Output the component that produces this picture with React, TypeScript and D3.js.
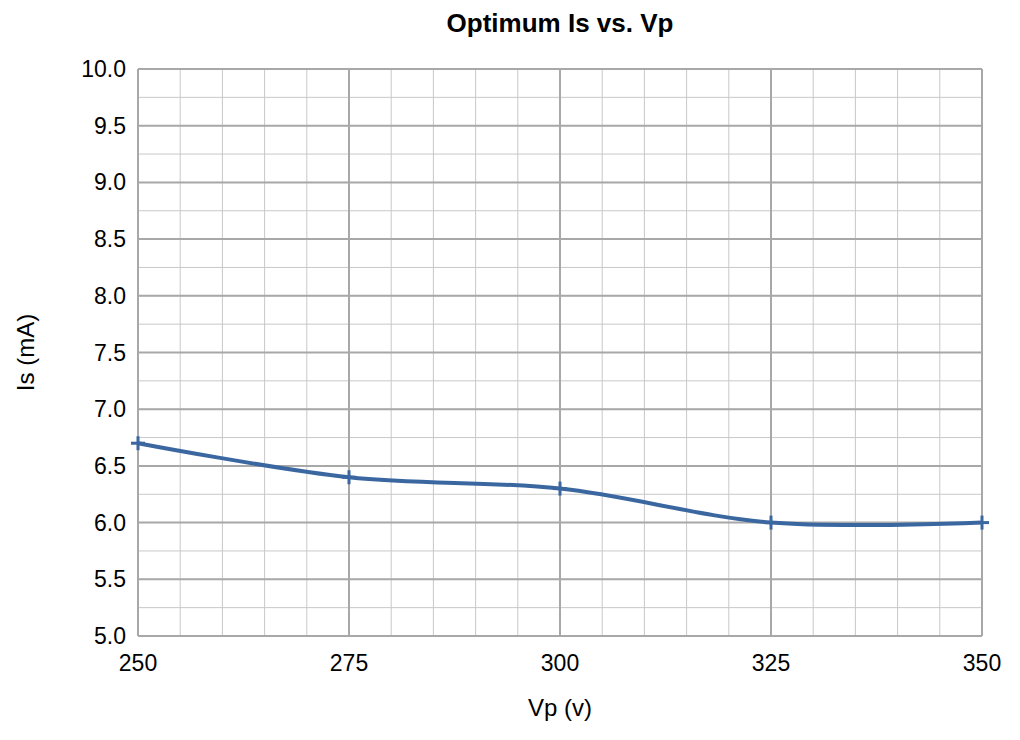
import * as d3 from 'd3';

const vp = [250, 275, 300, 325, 350];
const isMa = [6.7, 6.4, 6.3, 6.0, 6.0];
const xTicks = [250, 275, 300, 325, 350];
const yTicks = [5.0, 5.5, 6.0, 6.5, 7.0, 7.5, 8.0, 8.5, 9.0, 9.5, 10.0];

export default function App() {
  const W = 1020, H = 740;
  const m = { left: 138, right: 38, top: 69, bottom: 104 };
  const x = d3.scaleLinear().domain([250, 350]).range([m.left, W - m.right]);
  const y = d3.scaleLinear().domain([5, 10]).range([H - m.bottom, m.top]);
  const minorX = d3.range(250, 351, 5);
  const minorY = d3.range(5, 10.01, 0.25);
  const line = d3.line<number>()
    .x((_, i) => x(vp[i]))
    .y((d) => y(d))
    .curve(d3.curveCatmullRom.alpha(0.5));
  const font = 'Liberation Sans, Arial, sans-serif';
  return (
    <svg width={W} height={H} style={{ position: 'absolute', left: 0, top: 0 }} fontFamily={font}>
      <rect width={W} height={H} fill="#fff" />
      <text x={(m.left + W - m.right) / 2} y={32} textAnchor="middle" fontSize={26} fontWeight="bold">Optimum Is vs. Vp</text>
      {minorX.map((v) => (
        <line key={'mx' + v} x1={x(v)} x2={x(v)} y1={y(5)} y2={y(10)} stroke="#c8c8c8" strokeWidth={1} />
      ))}
      {minorY.map((v) => (
        <line key={'my' + v} x1={x(250)} x2={x(350)} y1={y(v)} y2={y(v)} stroke="#c8c8c8" strokeWidth={1} />
      ))}
      {xTicks.map((v) => (
        <line key={'gx' + v} x1={x(v)} x2={x(v)} y1={y(5)} y2={y(10)} stroke="#a8a8a8" strokeWidth={2} />
      ))}
      {yTicks.map((v) => (
        <line key={'gy' + v} x1={x(250)} x2={x(350)} y1={y(v)} y2={y(v)} stroke="#a8a8a8" strokeWidth={2} />
      ))}
      {yTicks.map((v) => (
        <text key={'ty' + v} x={m.left - 12} y={y(v) + 8} textAnchor="end" fontSize={23}>{v.toFixed(1)}</text>
      ))}
      {xTicks.map((v) => (
        <text key={'tx' + v} x={x(v)} y={y(5) + 35} textAnchor="middle" fontSize={23}>{v}</text>
      ))}
      <text x={(m.left + W - m.right) / 2} y={716} textAnchor="middle" fontSize={24}>Vp (v)</text>
      <text transform={`translate(34,${(m.top + H - m.bottom) / 2}) rotate(-90)`} textAnchor="middle" fontSize={24}>Is (mA)</text>
      <path d={line(isMa) || ''} fill="none" stroke="#3b67a0" strokeWidth={4} />
      {isMa.map((v, i) => (
        <g key={'p' + i} stroke="#3b67a0" strokeWidth={3}>
          <line x1={x(vp[i]) - 7} x2={x(vp[i]) + 7} y1={y(v)} y2={y(v)} />
          <line x1={x(vp[i])} x2={x(vp[i])} y1={y(v) - 7} y2={y(v) + 7} />
        </g>
      ))}
    </svg>
  );
}
